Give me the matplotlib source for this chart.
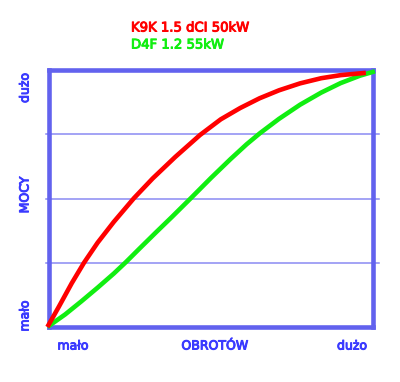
import matplotlib
matplotlib.use('Agg')
import matplotlib.pyplot as plt
import matplotlib.patheffects as pe

# values (0..1 on both axes)
red_x = [-0.005, 0.03, 0.07, 0.108, 0.15, 0.20, 0.262, 0.32, 0.39, 0.466, 0.53, 0.59,
         0.65, 0.71, 0.775, 0.84, 0.90, 0.978]
red_y = [0.0, 0.078, 0.170, 0.250, 0.328, 0.409, 0.501, 0.578, 0.662, 0.747, 0.808, 0.852,
         0.890, 0.921, 0.948, 0.968, 0.980, 0.989]
green_x = [-0.005, 0.05, 0.10, 0.15, 0.20, 0.237, 0.28, 0.33, 0.38, 0.44, 0.50, 0.56,
           0.61, 0.651, 0.71, 0.775, 0.84, 0.90, 0.96, 1.006]
green_y = [0.0, 0.049, 0.100, 0.153, 0.208, 0.252, 0.306, 0.368, 0.429, 0.504, 0.580, 0.653,
           0.711, 0.754, 0.810, 0.865, 0.912, 0.949, 0.978, 0.995]
grid_y = [0.25, 0.5, 0.75]
red_name = 'K9K 1.5 dCI 50kW'
green_name = 'D4F 1.2 55kW'
x_labels = ['mało', 'OBROTÓW', 'dużo']
y_labels = ['mało', 'MOCY', 'dużo']

frame_col = '#6262ee'
grid_col = '#8a8af2'
text_col = '#3a3aff'
red = '#ff0000'
green = '#11ee11'

fig = plt.figure(figsize=(4, 3.82), dpi=100)
ax = fig.add_axes([49/400, 55/382, 324/400, 257/382])
ax.set_xlim(0, 1)
ax.set_ylim(0, 1)
ax.set_xticks([])
ax.set_yticks([])
for s in ax.spines.values():
    s.set_color(frame_col)
    s.set_linewidth(3.3)

for g in grid_y:
    ax.axhline(g, xmin=-0.01, xmax=1.02, color=grid_col, lw=1.1, clip_on=False, zorder=1)

ax.plot(red_x, red_y, color=red, lw=3.3, clip_on=False, zorder=5,
        solid_capstyle='butt', solid_joinstyle='round')
ax.plot(green_x, green_y, color=green, lw=3.3, clip_on=False, zorder=4,
        solid_capstyle='butt', solid_joinstyle='round')


def label(x, y, s, col, size=9, rot=0, ha='center'):
    t = fig.text(x/400, 1 - y/382, s, color=col, fontsize=size, ha=ha, va='center', rotation=rot)
    t.set_path_effects([pe.withStroke(linewidth=0.7, foreground=col)])


# titles
label(131, 28, red_name, red, size=9.5, ha='left')
label(131, 45, green_name, green, size=9.5, ha='left')

# axis words
label(73, 346, x_labels[0], text_col)
label(215, 346, x_labels[1], text_col)
label(352, 346, x_labels[2], text_col)
label(25, 316, y_labels[0], text_col, rot=90)
label(25, 195, y_labels[1], text_col, rot=90)
label(25, 88, y_labels[2], text_col, rot=90)

fig.savefig('out.png', dpi=100)
